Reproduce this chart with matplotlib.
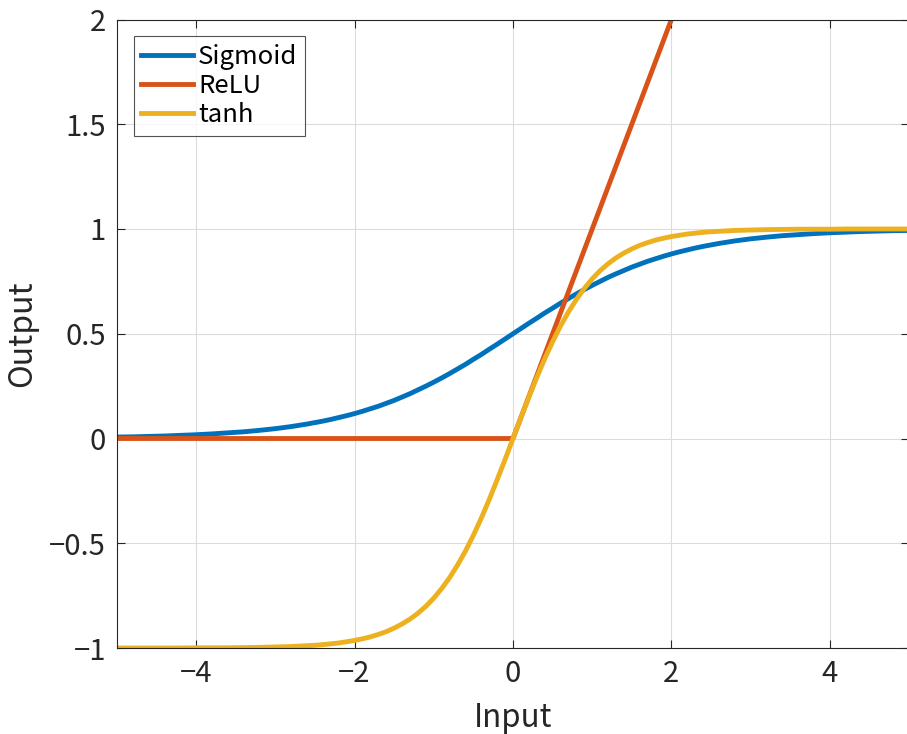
import numpy as np
import matplotlib
matplotlib.use("Agg")
import matplotlib.pyplot as plt

plt.rcParams['font.family'] = ['Noto Sans CJK JP', 'DejaVu Sans']

# sample points (denser where they bend most)
x_vals = [-5.0, -4.8, -4.6, -4.4, -4.2, -4.0, -3.8, -3.6, -3.4, -3.2, -3.0, -2.8, -2.6,
          -2.5, -2.4, -2.3, -2.2, -2.1, -2.0, -1.9, -1.8, -1.7, -1.6,
          -1.5, -1.4, -1.3, -1.2, -1.1, -1.0, -0.9, -0.8, -0.7, -0.6,
          -0.5, -0.4, -0.3, -0.2, -0.1, 0.0, 0.1, 0.2, 0.3, 0.4,
          0.5, 0.6, 0.7, 0.8, 0.9, 1.0, 1.1, 1.2, 1.3, 1.4,
          1.5, 1.6, 1.7, 1.8, 1.9, 2.0, 2.1, 2.2, 2.3, 2.4, 2.5,
          2.6, 2.8, 3.0, 3.2, 3.4, 3.6, 3.8, 4.0, 4.2, 4.4, 4.6, 4.8, 5.0]

sigmoid_vals = [0.007, 0.008, 0.010, 0.012, 0.015, 0.018, 0.022, 0.027, 0.032, 0.039, 0.047, 0.057, 0.069,
                0.076, 0.083, 0.091, 0.100, 0.109, 0.119, 0.130, 0.142, 0.154, 0.168,
                0.182, 0.198, 0.214, 0.232, 0.250, 0.269, 0.289, 0.310, 0.332, 0.354,
                0.378, 0.401, 0.426, 0.450, 0.475, 0.500, 0.525, 0.550, 0.574, 0.599,
                0.622, 0.646, 0.668, 0.690, 0.711, 0.731, 0.750, 0.769, 0.786, 0.802,
                0.818, 0.832, 0.846, 0.858, 0.870, 0.881, 0.891, 0.900, 0.909, 0.917, 0.924,
                0.931, 0.943, 0.953, 0.961, 0.968, 0.973, 0.978, 0.982, 0.985, 0.988, 0.990, 0.992, 0.993]

tanh_vals = [-1.000, -1.000, -1.000, -1.000, -1.000, -0.999, -0.999, -0.999, -0.998, -0.997, -0.995, -0.993, -0.989,
             -0.987, -0.984, -0.980, -0.976, -0.970, -0.964, -0.956, -0.947, -0.935, -0.922,
             -0.905, -0.885, -0.862, -0.834, -0.801, -0.762, -0.716, -0.664, -0.604, -0.537,
             -0.462, -0.380, -0.291, -0.197, -0.100, 0.000, 0.100, 0.197, 0.291, 0.380,
             0.462, 0.537, 0.604, 0.664, 0.716, 0.762, 0.801, 0.834, 0.862, 0.885,
             0.905, 0.922, 0.935, 0.947, 0.956, 0.964, 0.970, 0.976, 0.980, 0.984, 0.987,
             0.989, 0.993, 0.995, 0.997, 0.998, 0.999, 0.999, 0.999, 1.000, 1.000, 1.000, 1.000, 1.000]

relu_x = [-5.0, 0.0, 5.0]
relu_vals = [0.0, 0.0, 5.0]

x_ticks = [-4, -2, 0, 2, 4]
x_tick_labels = ["\u22124", "\u22122", "0", "2", "4"]
y_ticks = [-1, -0.5, 0, 0.5, 1, 1.5, 2]
y_tick_labels = ["\u22121", "\u22120.5", "0", "0.5", "1", "1.5", "2"]

W, H = 907, 734
fig = plt.figure(figsize=(W / 100, H / 100), dpi=100)
ax = fig.add_axes([117 / W, 1 - 648 / H, (909 - 117) / W, (648 - 19.5) / H])

lw = 3.5
ax.plot(x_vals, sigmoid_vals, color="#0072BD", lw=lw, label="Sigmoid", solid_joinstyle="round")
ax.plot(relu_x, relu_vals, color="#D95319", lw=lw, label="ReLU", solid_joinstyle="round")
ax.plot(x_vals, tanh_vals, color="#EDB120", lw=lw, label="tanh", solid_joinstyle="round")

ax.set_xlim(-5, 5)
ax.set_ylim(-1, 2)
ax.set_xticks(x_ticks)
ax.set_xticklabels(x_tick_labels)
ax.set_yticks(y_ticks)
ax.set_yticklabels(y_tick_labels)

ax.grid(True, color="#dcdcdc", lw=0.8)
ax.set_axisbelow(True)
ax.tick_params(direction="in", length=6, width=0.8, colors="#262626",
               labelsize=21, top=True, right=True, pad=8)
for s in ax.spines.values():
    s.set_color("#262626")
    s.set_linewidth(0.8)

ax.set_xlabel("Input", fontsize=22.5, color="#262626", labelpad=9)
ax.set_ylabel("Output", fontsize=23, color="#262626", labelpad=8)

leg = ax.legend(loc="upper left", fontsize=18.5, frameon=True, fancybox=False,
                handlelength=2.0, handletextpad=0.2, borderpad=0.3,
                labelspacing=0.12, borderaxespad=0.65)
leg.get_frame().set_edgecolor("#262626")
leg.get_frame().set_linewidth(0.8)

fig.savefig("out.png", dpi=100)
